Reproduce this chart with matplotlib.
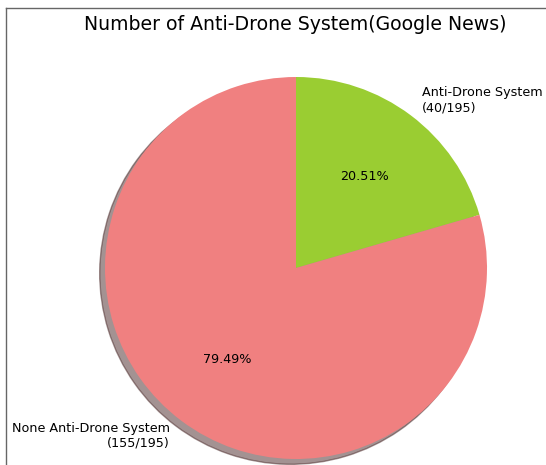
import matplotlib.pyplot as plt
from matplotlib.lines import Line2D

labels = ['Anti-Drone System\n(40/195)', 'None Anti-Drone System\n(155/195)']
counts = [40, 155]
colors = ['yellowgreen', 'lightcoral']

fig = plt.figure(figsize=(5.46, 4.65), dpi=100)
# pie radius ~191px, centre at (296, 268) px from top-left
r = 191
cx, cy = 296, 268
w = 2.5 * r
ax = fig.add_axes([(cx - w / 2) / 546, (465 - cy - w / 2) / 465, w / 546, w / 465])
ax.pie(counts, labels=labels, colors=colors, autopct='%1.2f%%',
       startangle=90, counterclock=False, shadow=True,
       textprops={'fontsize': 9.2})
ax.set_aspect('equal')

fig.text(295 / 546, 1 - 25 / 465, 'Number of Anti-Drone System(Google News)',
         ha='center', va='center', fontsize=13.6)

# thin frame of the screenshot
fig.add_artist(Line2D([6 / 546, 6 / 546], [0, 1 - 8 / 465], color='#666666', lw=1))
fig.add_artist(Line2D([6 / 546, 1], [1 - 8 / 465, 1 - 8 / 465], color='#666666', lw=1))

fig.savefig('out.png', dpi=100)
